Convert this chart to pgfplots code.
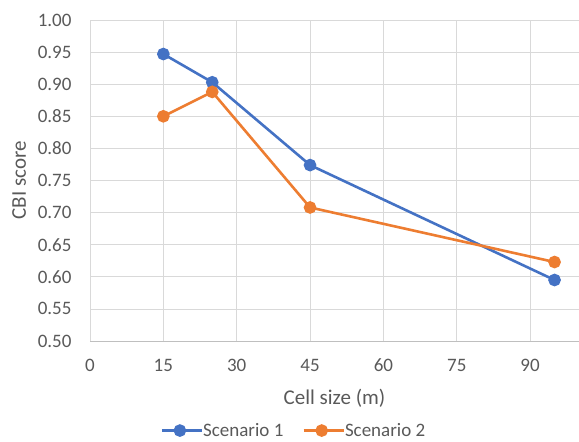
\documentclass[border=0pt]{standalone}
\usepackage{fontspec}
\setmainfont{Carlito}
\usepackage{pgfplots}
\pgfplotsset{compat=1.18}

\definecolor{sblue}{HTML}{4472C4}
\definecolor{sorange}{HTML}{ED7D31}
\definecolor{gridgray}{HTML}{D9D9D9}
\definecolor{axisgray}{HTML}{BFBFBF}
\definecolor{txtgray}{HTML}{595959}

\begin{document}
\begin{tikzpicture}
\useasboundingbox (0,0) rectangle (579bp,442bp);
\begin{axis}[
  at={(90bp,101bp)}, anchor=south west,
  scale only axis,
  width=489bp, height=321bp,
  xmin=0, xmax=100,
  ymin=0.5, ymax=1.0,
  xtick={0,15,30,45,60,75,90},
  ytick={0.50,0.55,...,1.001},
  yticklabel style={/pgf/number format/fixed, /pgf/number format/fixed zerofill, /pgf/number format/precision=2, anchor=east, xshift=-15bp},
  /pgf/number format/assume math mode=true,
  grid=major,
  major grid style={gridgray, line width=0.8bp},
  axis line style={draw=none},
  axis x line*=bottom,
  axis y line*=left,
  x axis line style={draw=axisgray, line width=0.8bp},
  y axis line style={draw=gridgray, line width=0.8bp},
  tick style={draw=none},
  ticklabel style={font=\fontsize{19bp}{22bp}\selectfont, text=txtgray},
  xticklabel style={anchor=center, yshift=-24bp},
  clip=false,
  xlabel={Cell size (m)},
  ylabel={CBI score},
  label style={font=\fontsize{21bp}{24bp}\selectfont, text=txtgray},
  xlabel style={at={(axis description cs:0.5,-0.177)}, anchor=center},
  ylabel style={at={(axis description cs:-0.145,0.5)}, anchor=center},
  legend columns=2,
  legend style={at={(0.417,-0.279)}, anchor=center, draw=none, fill=none,
    font=\fontsize{19bp}{22bp}\selectfont, text=txtgray, inner sep=0pt,
    /tikz/every odd column/.append style={column sep=-2bp},
    /tikz/every even column/.append style={column sep=17bp}},
  legend image code/.code={
    \draw[#1, mark=none] (0bp,0bp) -- (40bp,0bp);
    \fill[#1] (18bp,0bp) circle (5bp);
  },
]
\addplot[sblue, line width=2.6bp, mark=*, mark size=5bp, mark options={solid, fill=sblue, draw=sblue}]
  coordinates {(15,0.947) (25,0.903) (45,0.774) (95,0.595)};
\addplot[sorange, line width=2.6bp, mark=*, mark size=5bp, mark options={solid, fill=sorange, draw=sorange}]
  coordinates {(15,0.850) (25,0.888) (45,0.708) (95,0.623)};
\legend{Scenario 1, Scenario 2}
\end{axis}
\end{tikzpicture}
\end{document}
